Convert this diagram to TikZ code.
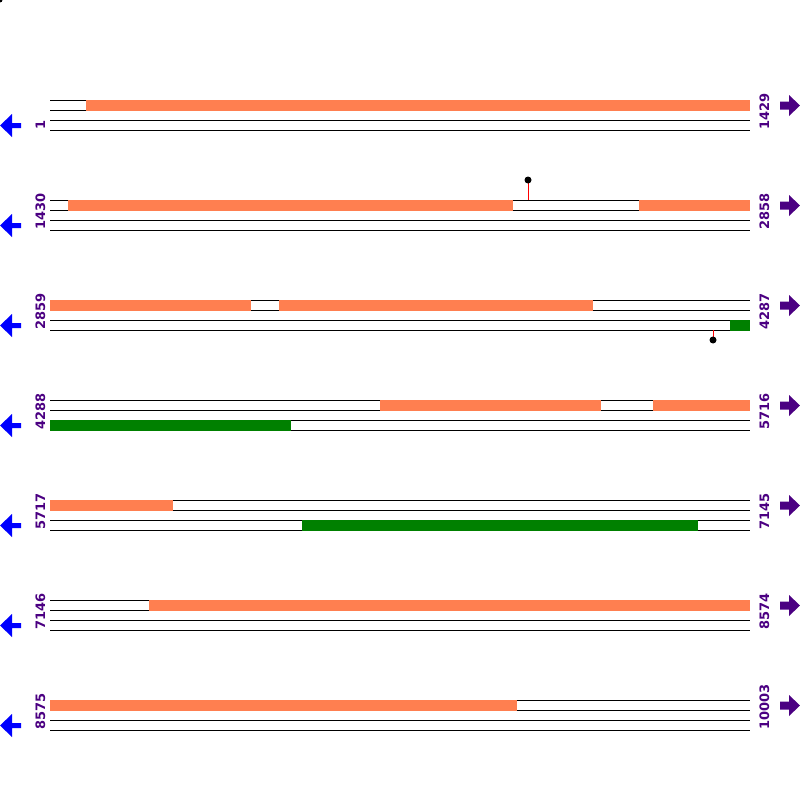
\documentclass[tikz,border=0pt]{standalone}
\usepackage{fontspec}
\setmainfont{DejaVu Sans}
\definecolor{featorange}{HTML}{FF7F50}
\definecolor{featgreen}{HTML}{008000}
\definecolor{posnum}{HTML}{4B0082}

\begin{document}
\begin{tikzpicture}[x=1pt, y=-1pt]
    \useasboundingbox (0,0) rectangle (800,800);
    \fill (0,0) circle (2.5);

    \foreach \r/\lo/\hi in {0/1/1429, 1/1430/2858, 2/2859/4287, 3/4288/5716, 4/5717/7145, 5/7146/8574, 6/8575/10003} {
        \pgfmathsetmacro{\rowy}{100+100*\r}
        \foreach \dy in {0,10,20,30} {
            \draw[line width=1] (50,\rowy+\dy) -- (750,\rowy+\dy);
        }
        \node[rotate=90, anchor=base west, inner sep=0, text=posnum, font=\fontsize{13}{13}\selectfont\bfseries] (lo\r) at (45,\rowy+30) {\lo};
        \node[rotate=90, anchor=base west, inner sep=0, text=posnum, font=\fontsize{13}{13}\selectfont\bfseries] (hi\r) at (769,\rowy+30) {\hi};
        \fill[blue] (0,\rowy+25.5) -- (12,\rowy+14) -- (12,\rowy+23) -- (21,\rowy+23) -- (21,\rowy+28) -- (12,\rowy+28) -- (12,\rowy+37) -- cycle;
        \fill[posnum] (800,\rowy+5.5) -- (789,\rowy-5) -- (789,\rowy+1.5) -- (780,\rowy+1.5) -- (780,\rowy+9.5) -- (789,\rowy+9.5) -- (789,\rowy+16) -- cycle;
    }

    % top strand
    \foreach \r/\a/\b in {0/86/750, 1/68/513, 1/639/750, 2/50/251, 2/279/593, 3/380/601, 3/653/750, 4/50/173, 5/149/750, 6/50/517} {
        \pgfmathsetmacro{\rowy}{100+100*\r}
        \fill[featorange] (\a,\rowy-0.5) rectangle (\b,\rowy+10.5);
    }

    % bottom strand
    \foreach \r/\a/\b in {2/730/750, 3/50/291, 4/302/698} {
        \pgfmathsetmacro{\rowy}{120+100*\r}
        \fill[featgreen] (\a,\rowy-0.5) rectangle (\b,\rowy+10.5);
    }

    \draw[red, line width=1] (528,200) -- (528,180);
    \fill (528,180) circle (3.5);
    \draw[red, line width=1] (713,330) -- (713,340);
    \fill (713,340) circle (3.5);
\end{tikzpicture}
\end{document}
